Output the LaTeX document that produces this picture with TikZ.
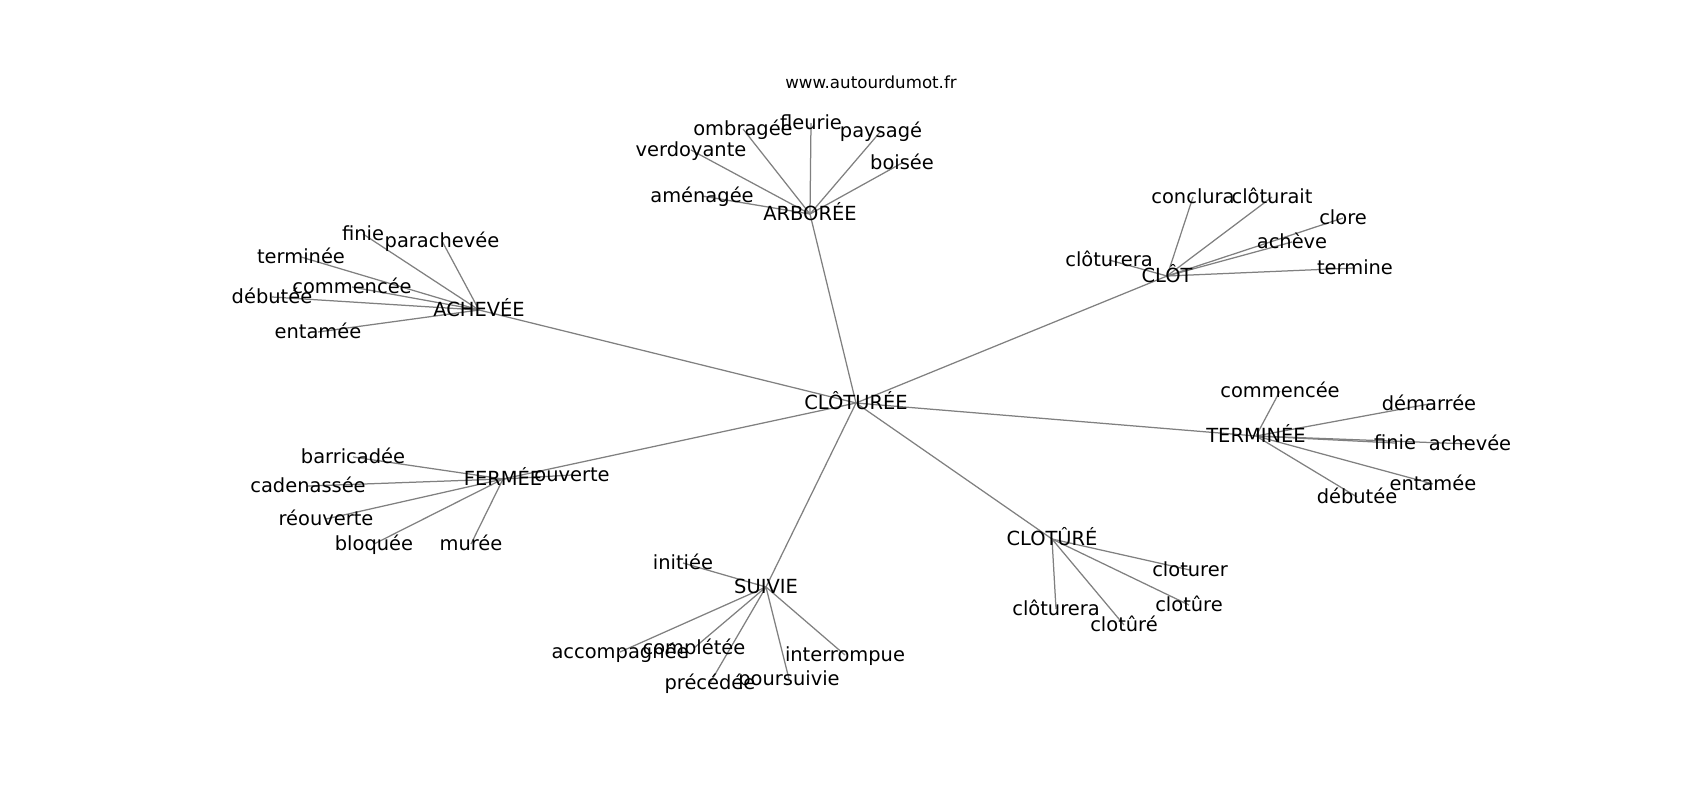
\documentclass[tikz,border=0pt]{standalone}
\usepackage{fontspec}
\setmainfont{DejaVu Sans}
\usetikzlibrary{backgrounds}

\begin{document}
\begin{tikzpicture}[x=0.72pt, y=-0.72pt,
    word/.style={inner sep=0pt, font=\fontsize{14}{16}\selectfont, text height=1.1em, text depth=0.11em},
    link/.style={draw=gray, line width=0.9pt}]
    \useasboundingbox (0,0) rectangle (1700,800);
    \node [inner sep=0pt, font=\fontsize{12}{14}\selectfont] (site) at (871,82) {www.autourdumot.fr};

    % hubs
    \node [word] (cloturee) at (856,403) {CLÔTURÉE};
    \node [word] (achevee) at (479,310) {ACHEVÉE};
    \node [word] (arboree) at (810,214) {ARBORÉE};
    \node [word] (clot) at (1167,276) {CLÔT};
    \node [word] (fermee) at (503,479) {FERMÉE};
    \node [word] (suivie) at (766,587) {SUIVIE};
    \node [word] (terminee) at (1256,436) {TERMINÉE};
    \node [word] (cloture) at (1052,539) {CLOTÛRÉ};

    % achevee
    \node [word] (ach1) at (363,234) {finie};
    \node [word] (ach2) at (442,241) {parachevée};
    \node [word] (ach3) at (301,257) {terminée};
    \node [word] (ach4) at (352,287) {commencée};
    \node [word] (ach5) at (272,297) {débutée};
    \node [word] (ach6) at (318,332) {entamée};

    % arboree
    \node [word] (arb1) at (743,129) {ombragée};
    \node [word] (arb2) at (811,123) {fleurie};
    \node [word] (arb3) at (881,131) {paysagé};
    \node [word] (arb4) at (691,150) {verdoyante};
    \node [word] (arb5) at (902,163) {boisée};
    \node [word] (arb6) at (702,196) {aménagée};

    % clot
    \node [word] (clo1) at (1193,197) {conclura};
    \node [word] (clo2) at (1272,197) {clôturait};
    \node [word] (clo3) at (1343,218) {clore};
    \node [word] (clo4) at (1292,242) {achève};
    \node [word] (clo5) at (1355,268) {termine};
    \node [word] (clo6) at (1109,260) {clôturera};

    % fermee
    \node [word] (fer1) at (572,475) {ouverte};
    \node [word] (fer2) at (353,457) {barricadée};
    \node [word] (fer3) at (308,486) {cadenassée};
    \node [word] (fer4) at (326,519) {réouverte};
    \node [word] (fer5) at (374,544) {bloquée};
    \node [word] (fer6) at (471,544) {murée};

    % suivie
    \node [word] (sui1) at (683,563) {initiée};
    \node [word] (sui2) at (620,652) {accompagnée};
    \node [word] (sui3) at (694,648) {complétée};
    \node [word] (sui4) at (710,683) {précédée};
    \node [word] (sui5) at (789,679) {poursuivie};
    \node [word] (sui6) at (845,655) {interrompue};

    % terminee
    \node [word] (ter1) at (1280,391) {commencée};
    \node [word] (ter2) at (1429,404) {démarrée};
    \node [word] (ter3) at (1395,443) {finie};
    \node [word] (ter4) at (1470,444) {achevée};
    \node [word] (ter5) at (1433,484) {entamée};
    \node [word] (ter6) at (1357,497) {débutée};

    % cloture
    \node [word] (clt1) at (1190,570) {cloturer};
    \node [word] (clt2) at (1189,605) {clotûre};
    \node [word] (clt3) at (1056,609) {clôturera};
    \node [word] (clt4) at (1124,625) {clotûré};

    \begin{scope}[on background layer]
        \foreach \hub in {achevee,arboree,clot,fermee,suivie,terminee,cloture}
            \draw [link] (cloturee.center) -- (\hub.center);
        \foreach \i in {1,...,6} {
            \draw [link] (achevee.center) -- (ach\i.center);
            \draw [link] (arboree.center) -- (arb\i.center);
            \draw [link] (clot.center) -- (clo\i.center);
            \draw [link] (fermee.center) -- (fer\i.center);
            \draw [link] (suivie.center) -- (sui\i.center);
            \draw [link] (terminee.center) -- (ter\i.center);
        }
        \foreach \i in {1,...,4}
            \draw [link] (cloture.center) -- (clt\i.center);
    \end{scope}
\end{tikzpicture}
\end{document}
